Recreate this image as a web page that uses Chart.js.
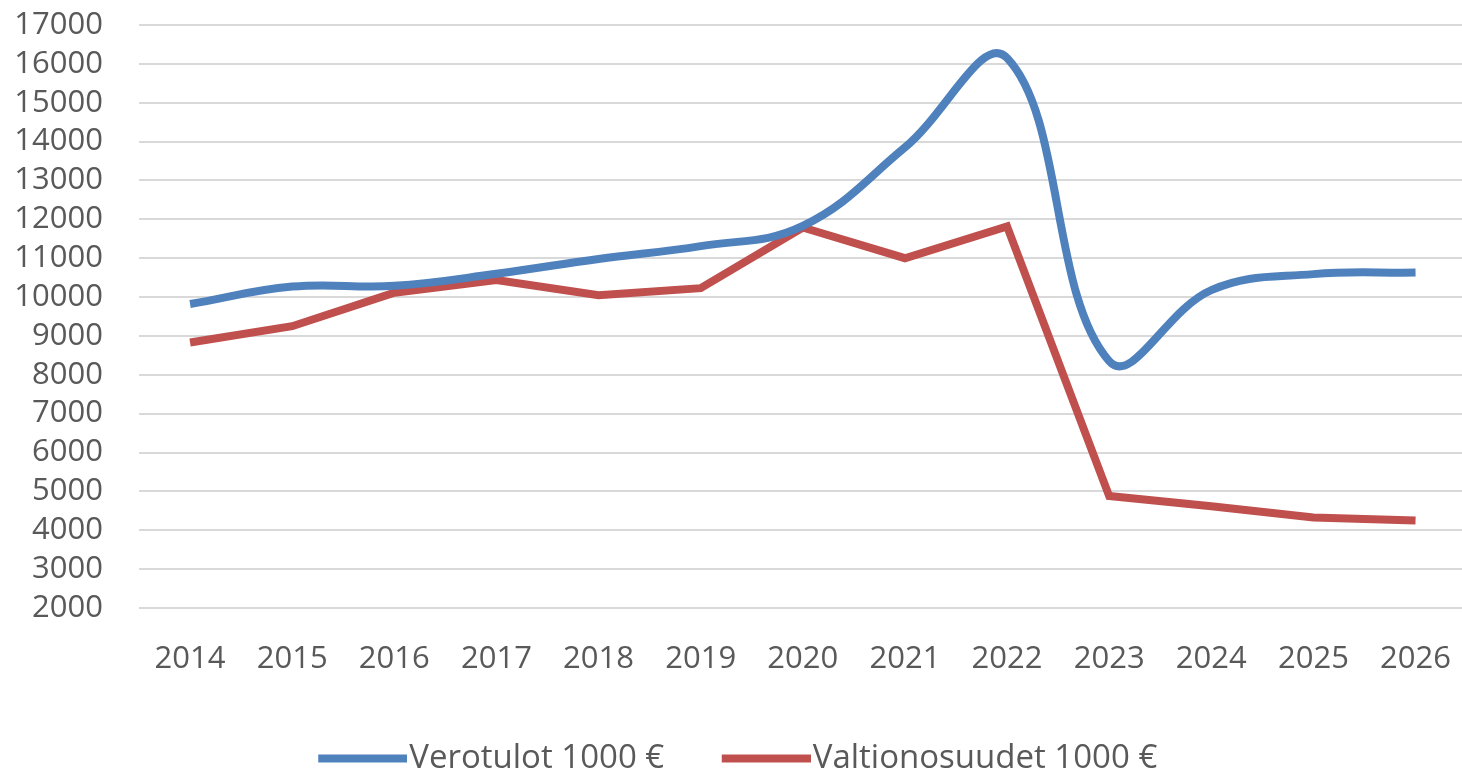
<!DOCTYPE html>
<html lang="fi">
<head>
    <meta charset="UTF-8">
    <title>Verotulot ja valtionosuudet</title>
    <script src="https://cdn.jsdelivr.net/npm/chart.js"></script>
    <style>
        html, body {
            margin: 0;
            padding: 0;
            background: #ffffff;
            overflow: hidden;
        }

        #chart-container {
            width: 1476px;
            height: 785px;
        }
    </style>
</head>
<body>
    <div id="chart-container">
        <canvas id="talousChart"></canvas>
    </div>

    <script>
        // Data (1000 €)
        const years = ['2014', '2015', '2016', '2017', '2018', '2019', '2020',
                       '2021', '2022', '2023', '2024', '2025', '2026'];
        const verotulot = [9820, 10270, 10290, 10600, 10980, 11310, 11830,
                           13850, 16150, 8350, 10180, 10590, 10630];
        const valtionosuudet = [8830, 9250, 10110, 10440, 10050, 10230, 11790,
                                11000, 11820, 4880, 4620, 4330, 4250];
        const yMin = 2000;
        const yMax = 17000;
        const yStep = 1000;

        const blue = '#4f81bd';
        const red = '#c0504d';
        const textColor = '#595959';

        // little line swatch for the legend, sits right next to the text
        function legendSwatch(color) {
            const c = document.createElement('canvas');
            c.width = 103;
            c.height = 10;
            const g = c.getContext('2d');
            g.strokeStyle = color;
            g.lineWidth = 8;
            g.beginPath();
            g.moveTo(14, 5);
            g.lineTo(103, 5);
            g.stroke();
            return c;
        }
        const swatches = [legendSwatch(blue), legendSwatch(red)];

        const ctx = document.getElementById('talousChart').getContext('2d');
        const chart = new Chart(ctx, {
            type: 'line',
            data: {
                labels: years,
                datasets: [{
                    label: 'Verotulot 1000 €',
                    data: verotulot,
                    borderColor: blue,
                    backgroundColor: blue,
                    borderWidth: 8,
                    pointRadius: 0,
                    tension: 0.4,
                    fill: false
                }, {
                    label: 'Valtionosuudet 1000 €',
                    data: valtionosuudet,
                    borderColor: red,
                    backgroundColor: red,
                    borderWidth: 8,
                    pointRadius: 0,
                    tension: 0,
                    fill: false
                }]
            },
            options: {
                responsive: true,
                maintainAspectRatio: false,
                animation: false,
                layout: {
                    padding: { top: 25, left: 0, right: 0, bottom: 0 }
                },
                plugins: {
                    tooltip: { enabled: false },
                    legend: {
                        position: 'bottom',
                        labels: {
                            usePointStyle: true,
                            pointStyleWidth: 74,
                            boxHeight: 10,
                            padding: 58,
                            color: textColor,
                            font: { family: 'Open Sans', size: 33 },
                            generateLabels(chart) {
                                const items = Chart.defaults.plugins.legend.labels.generateLabels(chart);
                                items.forEach((it, i) => { it.pointStyle = swatches[i]; });
                                return items;
                            }
                        }
                    }
                },
                scales: {
                    x: {
                        offset: true,
                        grid: { display: false },
                        border: { display: false },
                        ticks: {
                            color: textColor,
                            padding: 25,
                            maxRotation: 0,
                            font: { family: 'Open Sans', size: 31 }
                        },
                        afterFit(scale) { scale.height = 76; }
                    },
                    y: {
                        min: yMin,
                        max: yMax,
                        grid: {
                            color: '#d9d9d9',
                            lineWidth: 2,
                            drawTicks: true,
                            tickLength: 36,
                            tickColor: 'rgba(0,0,0,0)'
                        },
                        border: { display: false },
                        ticks: {
                            stepSize: yStep,
                            autoSkip: false,
                            maxTicksLimit: 30,
                            color: textColor,
                            padding: 0,
                            font: { family: 'Open Sans', size: 31, lineHeight: 1 },
                            callback: (value) => String(value)
                        },
                        afterFit(scale) { scale.width = 139; }
                    }
                }
            }
        });
    </script>
</body>
</html>
